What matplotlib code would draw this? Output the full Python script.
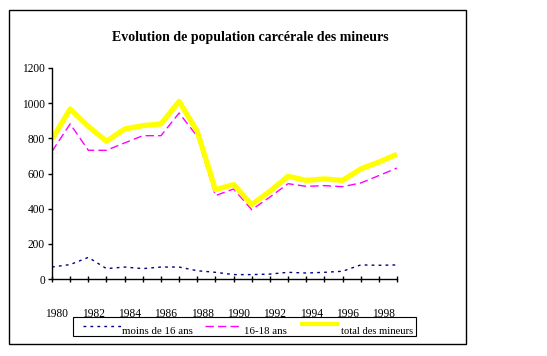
import matplotlib
matplotlib.use("Agg")
import matplotlib.pyplot as plt
import matplotlib.transforms as mtransforms
from matplotlib.patches import Rectangle
from matplotlib.lines import Line2D

plt.rcParams["font.family"] = ["Liberation Serif", "DejaVu Serif"]

years = list(range(1980, 2000))
moins_16 = [68, 82, 123, 59, 68, 59, 68, 68, 47, 38, 25, 25, 28, 38, 34, 38, 44, 80, 78, 80]
ans_16_18 = [726, 882, 732, 732, 774, 815, 815, 944, 811, 474, 512, 394, 466, 542, 527, 531, 525, 546, 588, 631]
total = [795, 967, 868, 783, 853, 872, 882, 1010, 840, 508, 537, 423, 499, 584, 561, 569, 561, 626, 665, 709]
yticks = [0, 200, 400, 600, 800, 1000, 1200]

W, H = 547, 356
fig = plt.figure(figsize=(W / 100, H / 100), dpi=100)

def fx(px):
    return px / W

def fy(py):
    return 1 - py / H

ax = fig.add_axes([fx(52), fy(279), fx(397) - fx(52), fy(68) - fy(279)])
x = list(range(len(years)))
ax.plot(x, moins_16, color="#000080", lw=1.0, ls=(0, (2, 3)))
ax.plot(x, ans_16_18, color="#FF00FF", lw=1.0, ls=(0, (6, 3)))
ax.plot(x, total, color="#FFFF00", lw=3.8, solid_capstyle="butt")

ax.set_xlim(0, len(years) - 1)
ax.set_ylim(0, 1200)
ax.set_yticks(yticks)
ax.set_xticks(x)
ax.set_xticklabels([str(y) if y % 2 == 0 else "" for y in years])
for s in ["top", "right"]:
    ax.spines[s].set_visible(False)
for s in ["left", "bottom"]:
    ax.spines[s].set_linewidth(1.0)
ax.tick_params(axis="y", direction="out", length=3, width=1, labelsize=8.3, pad=2)
ax.tick_params(axis="x", direction="inout", length=5, width=1, labelsize=8.3, pad=18.5)
shift = mtransforms.ScaledTranslation(5 / 100, 0, fig.dpi_scale_trans)
for lab in ax.get_xticklabels():
    lab.set_transform(lab.get_transform() + shift)

fig.text(fx(250), fy(37), "Evolution de population carcérale des mineurs",
         ha="center", va="center", fontsize=10, fontweight="bold")

# outer frame
fig.add_artist(Rectangle((fx(9), fy(344)), fx(466) - fx(9), fy(10) - fy(344),
                         transform=fig.transFigure, fill=False, lw=1.0, ec="black"))

# legend box
fig.add_artist(Rectangle((fx(73), fy(336)), fx(416) - fx(73), fy(317) - fy(336),
                         transform=fig.transFigure, fill=False, lw=0.8, ec="black"))
fig.add_artist(Line2D([fx(83), fx(122)], [fy(326), fy(326)], color="#000080",
                      lw=1.0, ls=(0, (2, 3)), transform=fig.transFigure))
fig.add_artist(Line2D([fx(205), fx(239)], [fy(326), fy(326)], color="#FF00FF",
                      lw=1.0, ls=(0, (6, 3)), transform=fig.transFigure))
fig.add_artist(Line2D([fx(300), fx(339)], [fy(324), fy(324)], color="#FFFF00",
                      lw=3.0, solid_capstyle="butt", transform=fig.transFigure))
fig.text(fx(122), fy(331), "moins de 16 ans", ha="left", va="center", fontsize=7.8)
fig.text(fx(244), fy(331), "16-18 ans", ha="left", va="center", fontsize=7.8)
fig.text(fx(341), fy(331), "total des mineurs", ha="left", va="center", fontsize=7.6)

fig.savefig("out.png", dpi=100)
